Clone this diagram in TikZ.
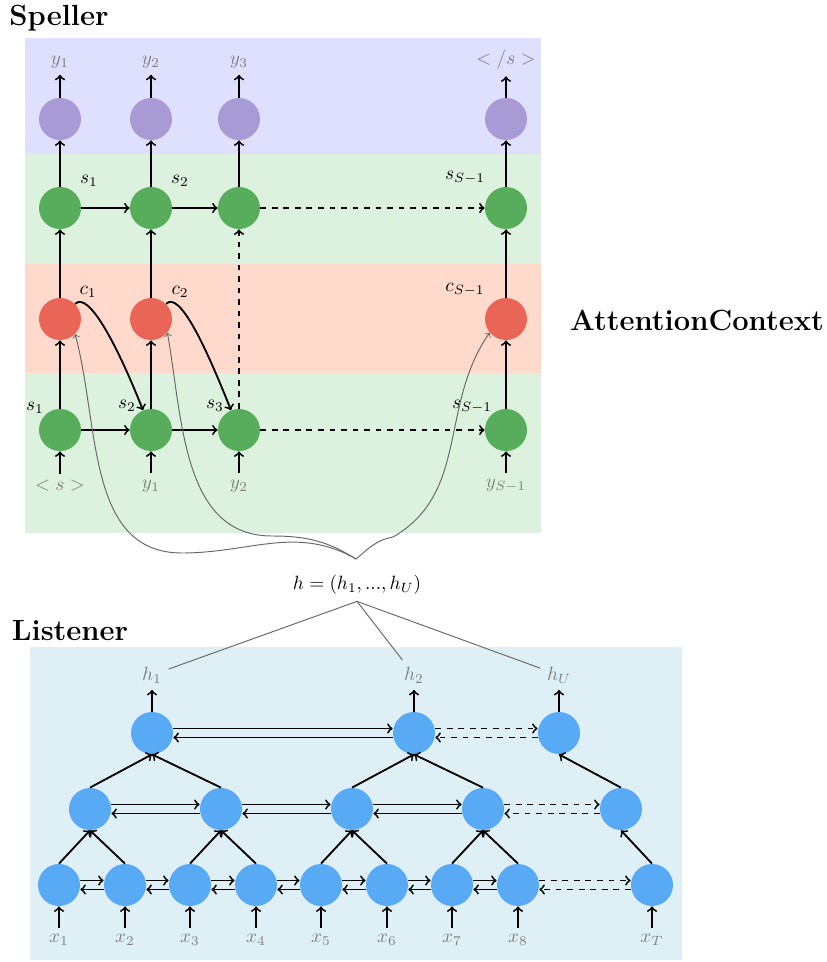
\documentclass[tikz,border=0pt]{standalone}
\definecolor{bandP}{HTML}{DFDFFE}
\definecolor{bandG}{HTML}{DCF1DE}
\definecolor{bandR}{HTML}{FFD9CB}
\definecolor{bandL}{HTML}{DEEFF6}
\definecolor{nodeP}{HTML}{A89AD5}
\definecolor{nodeG}{HTML}{57AD5B}
\definecolor{nodeR}{HTML}{E86557}
\definecolor{nodeB}{HTML}{57AAF3}
\definecolor{labgray}{HTML}{7F7F7F}
\definecolor{attgray}{HTML}{686868}
\begin{document}
\begin{tikzpicture}[x=0.5208pt,y=-0.5208pt,
  neuron/.style={circle,minimum size=21.875pt,inner sep=0pt},
  pnode/.style={neuron,fill=nodeP},
  gnode/.style={neuron,fill=nodeG},
  rnode/.style={neuron,fill=nodeR},
  bnode/.style={neuron,fill=nodeB},
  io/.style={text=labgray},
  lab/.style={inner sep=0pt},
  conn/.style={->,line width=0.95pt},
  dconn/.style={->,line width=0.95pt,dashed},
  attn/.style={->,line width=0.5pt,attgray},
  hline/.style={line width=0.5pt,attgray},
  title/.style={font=\fontsize{15.2pt}{18pt}\selectfont\bfseries}]
\useasboundingbox (0,0) rectangle (827,962);
% bands
\fill[bandP] (25,38) rectangle (541,154);
\fill[bandG] (25,154) rectangle (541,264);
\fill[bandR] (25,264) rectangle (541,373);
\fill[bandG] (25,373) rectangle (541,533);
\fill[bandL] (30,647) rectangle (682,960);
% titles
\node[title] (tsp) at (59,18) {Speller};
\node[title] (tli) at (70,631) {Listener};
\node[title] (tat) at (697,320) {AttentionContext};
% speller nodes
\foreach \n/\x in {1/60,2/151,3/239,S/506} {
  \node[pnode] (p\n) at (\x,119) {};
  \node[gnode] (u\n) at (\x,208) {};
  \node[gnode] (l\n) at (\x,430) {};
}
\foreach \n/\x in {1/60,2/151,S/506} \node[rnode] (r\n) at (\x,319) {};
% speller io labels
\node[io] (yo1) at (60,62) {$y_1$};
\node[io] (yo2) at (151,62) {$y_2$};
\node[io] (yo3) at (239,62) {$y_3$};
\node[io] (yoS) at (506,60) {$</s>$};
\node[io] (yi1) at (60,486) {$<s>$};
\node[io] (yi2) at (151,486) {$y_1$};
\node[io] (yi3) at (239,486) {$y_2$};
\node[io] (yiS) at (506,486) {$y_{S-1}$};
% state labels
\node[lab] (su1) at (89,181) {$s_1$};
\node[lab] (su2) at (180,181) {$s_2$};
\node[lab] (suS) at (465,178) {$s_{S-1}$};
\node[lab] (cl1) at (88,292) {$c_1$};
\node[lab] (cl2) at (180,292) {$c_2$};
\node[lab] (clS) at (465,290) {$c_{S-1}$};
\node[lab] (sl1) at (35,408) {$s_1$};
\node[lab] (sl2) at (127,406) {$s_2$};
\node[lab] (sl3) at (215,406) {$s_3$};
\node[lab] (slS) at (472,407) {$s_{S-1}$};
% speller connectors
\foreach \n in {1,2,3,S} {
  \draw[conn] (yi\n) -- (l\n);
  \draw[conn] (u\n) -- (p\n);
  \draw[conn] (p\n) -- (yo\n);
}
\foreach \n in {1,2,S} {
  \draw[conn] (l\n) -- (r\n);
  \draw[conn] (r\n) -- (u\n);
}
\draw[dconn] (l3) -- (u3);
\draw[conn] (u1) -- (u2);
\draw[conn] (u2) -- (u3);
\draw[dconn] (u3) -- (uS);
\draw[conn] (l1) -- (l2);
\draw[conn] (l2) -- (l3);
\draw[dconn] (l3) -- (lS);
\draw[conn] (r1.45) .. controls +(13,-13) and +(-27,-68) .. (l2.112);
\draw[conn] (r2.45) .. controls +(13,-13) and +(-27,-68) .. (l3.112);
% h label and attention curves
\node (hlab) at (357,585) {$h = (h_1, ..., h_U)$};
\coordinate (cusp) at (356,559);
\coordinate (k1) at (182,553);
\coordinate (k2) at (272,536);
\coordinate (k3) at (393,537);
\draw[attn] (cusp) to[out=150,in=0] (k1) to[out=180,in=-75] (r1.-45);
\draw[attn] (cusp) to[out=148,in=0] (k2) to[out=180,in=-80] (r2.-40);
\draw[attn] (cusp) to[out=40,in=190] (k3) to[out=30,in=235] (rS.-140);
% listener nodes
\foreach \n/\x in {1/59,2/125,3/190,4/256,5/321,6/387,7/452,8/518,T/652} {
  \node[bnode] (b\n) at (\x,885) {};
  \node[io] (x\n) at (\x,940) {$x_\n$};
  \draw[conn] (x\n) -- (b\n);
}
\foreach \n/\x in {1/90,2/221,3/352,4/483,5/621} \node[bnode] (q\n) at (\x,809) {};
\node[bnode] (t1) at (152,733) {};
\node[bnode] (t2) at (414,733) {};
\node[bnode] (t3) at (559,733) {};
\node[io] (h1) at (152,675) {$h_1$};
\node[io] (h2) at (414,675) {$h_2$};
\node[io] (hU) at (559,675) {$h_U$};
\draw[conn] (t1) -- (h1);
\draw[conn] (t2) -- (h2);
\draw[conn] (t3) -- (hU);
\draw[hline] (hlab.south) -- (h1);
\draw[hline] (hlab.south) -- (h2);
\draw[hline] (hlab.south) -- (hU);
% bidirectional links
\foreach \a/\b in {b1/b2,b2/b3,b3/b4,b4/b5,b5/b6,b6/b7,b7/b8,q1/q2,q2/q3,q3/q4,t1/t2} {
  \draw[conn] ([yshift=2.34pt]\a.east) -- ([yshift=2.34pt]\b.west);
  \draw[conn] ([yshift=-2.34pt]\b.west) -- ([yshift=-2.34pt]\a.east);
}
\foreach \a/\b in {b8/bT,q4/q5,t2/t3} {
  \draw[dconn] ([yshift=2.34pt]\a.east) -- ([yshift=2.34pt]\b.west);
  \draw[dconn] ([yshift=-2.34pt]\b.west) -- ([yshift=-2.34pt]\a.east);
}
% pyramid links
\foreach \c/\p in {b1/q1,b2/q1,b3/q2,b4/q2,b5/q3,b6/q3,b7/q4,b8/q4,bT/q5,q1/t1,q2/t1,q3/t2,q4/t2,q5/t3}
  \draw[conn] (\c.north) -- (\p.south);
\end{tikzpicture}
\end{document}
